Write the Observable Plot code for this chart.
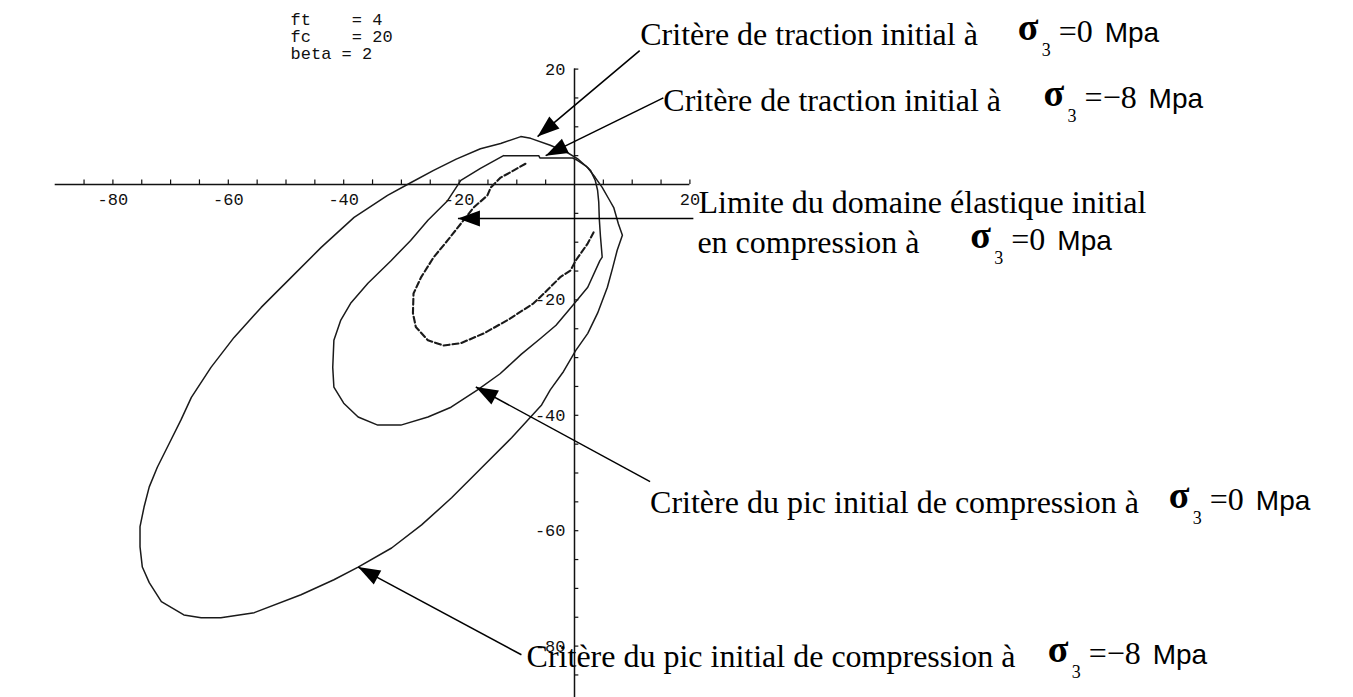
<!DOCTYPE html>
<html>
<head>
<meta charset="utf-8">
<script src="https://cdn.jsdelivr.net/npm/d3@7"></script>
<script src="https://cdn.jsdelivr.net/npm/@observablehq/plot@0.6"></script>
<style>
  html, body { margin: 0; padding: 0; background: #fff; }
  #chart svg { display: block; }
</style>
</head>
<body>
<div id="chart"></div>
<script>
// Model parameters printed in the top-left corner
const paramLines = ["ft    = 4", "fc    = 20", "beta = 2"];

// Peak compression criterion at sigma3 = -8 MPa (sigma1–sigma2 plane, closed)
const peakMinus8 = [
  [-9.3, 8.3], [-7.6, 8.0], [-4.2, 6.8], [-1.2, 5.5], [0.5, 4.5], [2.3, 2.9], [3.6, 1.2],
  [4.8, -0.5], [6.0, -2.6], [6.8, -4.0], [7.6, -6.8], [8.3, -8.8], [7.4, -11.4], [6.6, -14.5],
  [5.7, -17.8], [4.0, -22.3], [2.3, -25.8], [0.2, -28.8], [-1.9, -32.4], [-4.2, -35.6],
  [-5.7, -38.2], [-10.9, -43.9], [-16.1, -49.1], [-21.3, -54.3], [-26.5, -59.0], [-31.7, -63.0],
  [-37.5, -66.3], [-41.7, -68.5], [-47.4, -71.1], [-55.5, -74.2], [-61.3, -75.1], [-64.7, -75.1],
  [-67.7, -74.6], [-71.6, -72.3], [-73.7, -69.0], [-74.9, -66.3], [-75.3, -62.8], [-75.3, -59.3],
  [-74.6, -55.9], [-73.7, -52.4], [-72.3, -49.0], [-70.2, -44.8], [-68.2, -40.8], [-66.4, -36.9],
  [-63.0, -31.7], [-59.0, -26.5], [-54.3, -21.3], [-49.1, -16.1], [-43.9, -10.9], [-38.2, -5.7],
  [-32.4, -1.9], [-28.4, 0.3], [-24.5, 2.4], [-20.5, 4.4], [-16.3, 6.2], [-12.8, 7.1], [-9.3, 8.3]
];

// Peak compression criterion at sigma3 = 0 MPa, with its tension cut-off (closed)
const peakZero = [
  [-12.3, 5.0], [-6.2, 5.0], [-6.0, 4.6], [-0.3, 4.6], [0.5, 4.2], [2.0, 3.2], [2.8, 2.4],
  [3.6, 0.7], [4.0, -1.0], [4.2, -3.0], [4.3, -6.0], [4.5, -9.0], [4.8, -12.6], [4.4, -13.2],
  [2.3, -17.8], [-0.5, -21.2], [-3.2, -24.4], [-5.8, -26.6], [-9.2, -29.4], [-12.9, -32.8],
  [-16.8, -35.6], [-21.4, -38.6], [-25.4, -40.3], [-30.1, -41.7], [-34.1, -41.7], [-37.5, -40.3],
  [-40.0, -37.9], [-41.7, -35.1], [-41.9, -31.7], [-41.7, -27.0], [-40.5, -23.5], [-38.8, -20.6],
  [-35.8, -17.1], [-31.8, -13.2], [-28.4, -9.7], [-25.4, -6.2], [-22.0, -2.8], [-19.7, 0.7],
  [-16.3, 2.8], [-14.5, 3.8], [-12.3, 5.0]
];

// Initial elastic limit in compression at sigma3 = 0 MPa (open dashed arc)
const elasticZero = [
  [-8.5, 3.6], [-10.6, 2.4], [-12.8, 1.2], [-14.5, -0.5], [-15.1, -1.9], [-17.5, -4.0],
  [-19.7, -6.8], [-22.0, -9.7], [-24.4, -12.6], [-26.6, -16.1], [-27.9, -18.9], [-28.0, -22.3],
  [-27.5, -24.7], [-25.4, -27.0], [-22.7, -27.9], [-19.7, -27.5], [-15.7, -25.8], [-11.6, -23.5],
  [-7.1, -20.6], [-4.7, -18.3], [-2.4, -16.0], [-0.7, -14.9], [0.2, -13.2], [2.3, -10.2], [3.3, -8.3]
];

// Axis ticks and labels
const xTicks = [-85, -80, -75, -70, -65, -60, -55, -50, -45, -40, -35, -30, -25, -20, -15, -10, -5, 5, 10, 15, 20];
const yTicks = [20, 15, 10, 5, -5, -10, -15, -20, -25, -30, -35, -40, -45, -50, -55, -60, -65, -70, -75, -80, -85];
const xTickLabels = [-80, -60, -40, -20, 20];
const yTickLabels = [20, -20, -40, -60, -80];
const xExtent = [-90, 20];
const yExtent = [20, -90];

// Annotation texts (anchored at their baseline start, in plot units)
const labels = [
  {text: "Critère de traction initial à", x: 11.4, y: 24.1},
  {text: "Critère de traction initial à", x: 15.4, y: 12.8},
  {text: "Limite du domaine élastique initial", x: 21.5, y: -5.0},
  {text: "en compression à", x: 21.3, y: -11.8},
  {text: "Critère du pic initial de compression à", x: 13.1, y: -57.0},
  {text: "Critère du pic initial de compression à", x: -8.3, y: -83.7}
];

// Confining stress expressions following each label
const equations = [
  {rhs: "0", x: 76.8, y: 24.1},
  {rhs: "−8", x: 81.3, y: 12.8},
  {rhs: "0", x: 68.6, y: -11.8},
  {rhs: "0", x: 103.0, y: -57.0},
  {rhs: "−8", x: 82.0, y: -83.7}
];

// Leader arrows: from (x1, y1) near the label to the curve at (x2, y2)
const arrows = [
  {x1: 11.3, y1: 23.2, x2: -6.4, y2: 8.3},
  {x1: 15.4, y1: 15.0, x2: -5.0, y2: 5.0},
  {x1: 20.6, y1: -5.9, x2: -20.2, y2: -5.9},
  {x1: 13.1, y1: -51.5, x2: -17.1, y2: -35.1},
  {x1: -9.2, y1: -81.5, x2: -37.5, y2: -66.3}
];

// Filled, elongated arrowhead with its tip at the origin, pointing up
const arrowHead = {
  draw(context, size) {
    const s = Math.sqrt(size / Math.PI);
    context.moveTo(0, 0);
    context.lineTo(-0.72 * s, 2 * s);
    context.lineTo(0.72 * s, 2 * s);
    context.closePath();
  }
};

const ink = "#111";
const serif = "Liberation Serif";
const mono = "Liberation Mono";

const chart = Plot.plot({
  width: 1353,
  height: 697,
  style: {background: "#fff", overflow: "visible"},
  x: {domain: xExtent, range: [54.7, 689.4], axis: null},
  y: {domain: yExtent, range: [68.6, 703.3], axis: null},
  marks: [
    // axes through the origin
    Plot.ruleY([0], {x1: xExtent[0], x2: xExtent[1], stroke: ink, strokeWidth: 1.5}),
    Plot.ruleX([0], {y1: yExtent[0], y2: yExtent[1], stroke: ink, strokeWidth: 1.5}),
    Plot.ruleX(xTicks, {x: d => d, y1: 0, y2: 0.8, stroke: ink, strokeWidth: 1.2}),
    Plot.ruleY(yTicks, {y: d => d, x1: 0, x2: 0.75, stroke: ink, strokeWidth: 1.2}),
    Plot.text(xTickLabels, {x: d => d, y: 0, dy: 15, text: d => String(d), fontFamily: mono, fontSize: 17, fill: ink}),
    Plot.text(yTickLabels, {x: 0, y: d => d, dx: -9, text: d => String(d), textAnchor: "end", fontFamily: mono, fontSize: 17, fill: ink}),

    // criteria curves
    Plot.line(peakMinus8, {x: d => d[0], y: d => d[1], stroke: "#1a1a1a", strokeWidth: 1.5}),
    Plot.line(peakZero, {x: d => d[0], y: d => d[1], stroke: "#1a1a1a", strokeWidth: 1.5}),
    Plot.line(elasticZero, {x: d => d[0], y: d => d[1], stroke: "#1a1a1a", strokeWidth: 2.1, strokeDasharray: "6,3"}),

    // parameters block
    Plot.text([paramLines.join("\n")], {x: -49.2, y: 29.8, text: d => d, textAnchor: "start", lineAnchor: "top", lineHeight: 1.0, fontFamily: mono, fontSize: 17, fill: ink}),

    // leader arrows
    Plot.link(arrows, {x1: "x1", y1: "y1", x2: "x2", y2: "y2", stroke: "#000", strokeWidth: 1.5}),
    Plot.dot(arrows, {x: "x2", y: "y2", symbol: arrowHead, r: 11, fill: "#000", stroke: null,
      rotate: d => Math.atan2(d.x2 - d.x1, d.y2 - d.y1) * 180 / Math.PI}),

    // annotation texts
    Plot.text(labels, {x: "x", y: "y", text: "text", textAnchor: "start", lineAnchor: "bottom", fontFamily: serif, fontSize: 32, fill: "#000"}),
    Plot.text(equations, {x: "x", y: "y", text: () => "σ", dy: -5, textAnchor: "start", lineAnchor: "bottom", fontFamily: serif, fontSize: 38, fontWeight: "bold", fill: "#000"}),
    Plot.text(equations, {x: "x", y: "y", text: () => "3", dx: 24, dy: 11, textAnchor: "start", lineAnchor: "bottom", fontFamily: serif, fontSize: 18, fill: "#000"}),
    Plot.text(equations, {x: "x", y: "y", text: d => "=" + d.rhs, dx: 41, dy: -3, textAnchor: "start", lineAnchor: "bottom", fontFamily: serif, fontSize: 32, fill: "#000"}),
    Plot.text(equations, {filter: d => d.rhs === "0", x: "x", y: "y", text: () => "Mpa", dx: 87, dy: -3, textAnchor: "start", lineAnchor: "bottom", fontFamily: "Liberation Sans", fontSize: 28, fill: "#000"}),
    Plot.text(equations, {filter: d => d.rhs !== "0", x: "x", y: "y", text: () => "Mpa", dx: 105, dy: -3, textAnchor: "start", lineAnchor: "bottom", fontFamily: "Liberation Sans", fontSize: 28, fill: "#000"})
  ]
});

document.getElementById("chart").appendChild(chart);
</script>
</body>
</html>
